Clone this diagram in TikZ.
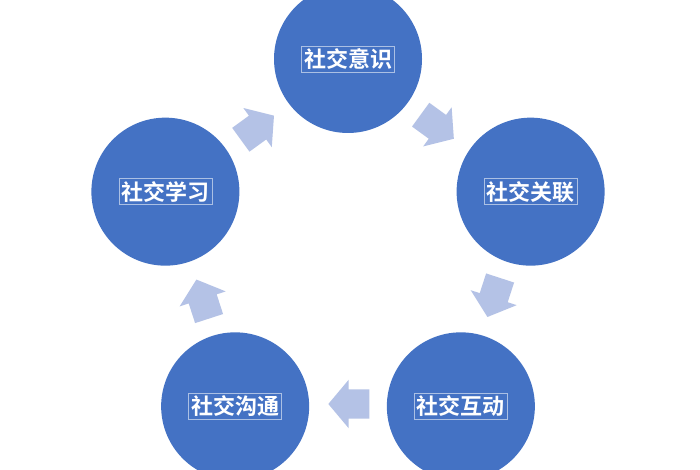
\documentclass[tikz,border=0pt]{standalone}
\usepackage{fontspec}
\newfontfamily\cjkb{Noto Sans CJK SC Bold}
\usetikzlibrary{shapes.arrows,calc}
\definecolor{circblue}{RGB}{68,114,196}
\definecolor{arrblue}{RGB}{180,194,230}
\tikzset{
  stage/.style={circle, fill=circblue, minimum size=148pt, inner sep=0pt},
  lbl/.style={draw=white!55!circblue, line width=0.6pt, inner sep=2.5pt, text=white,
    font=\cjkb\fontsize{22pt}{24pt}\selectfont},
  cyc/.style={single arrow, fill=arrblue, minimum height=41pt,
    inner xsep=0pt, inner ysep=14.5pt,
    single arrow head extend=9.5pt, single arrow tip angle=100}
}
\begin{document}
\begin{tikzpicture}[x=1pt,y=1pt]
\clip (0,0) rectangle (700,470);
\fill[white] (0,0) rectangle (700,470);
\begin{scope}[shift={(348,219)}]
  \node[stage] (s1) at (90:192) {};
  \node[stage] (s2) at (18:192) {};
  \node[stage] (s3) at (-54:192) {};
  \node[stage] (s4) at (-126:192) {};
  \node[stage] (s5) at (162:192) {};
  \node[lbl] (t1) at (s1.center) {社交意识};
  \node[lbl] (t2) at (s2.center) {社交关联};
  \node[lbl] (t3) at (s3.center) {社交互动};
  \node[lbl] (t4) at (s4.center) {社交沟通};
  \node[lbl] (t5) at (s5.center) {社交学习};
  \node[cyc, rotate=-36] (a12) at ($(54:153)+(144:7)$) {};
  \node[cyc, rotate=-108] (a23) at ($(-18:153)+(72:7)$) {};
  \node[cyc, rotate=180] (a34) at ($(-90:153)+(0:7)$) {};
  \node[cyc, rotate=108] (a45) at ($(198:153)+(288:7)$) {};
  \node[cyc, rotate=36] (a51) at ($(126:153)+(216:7)$) {};
\end{scope}
\end{tikzpicture}
\end{document}
